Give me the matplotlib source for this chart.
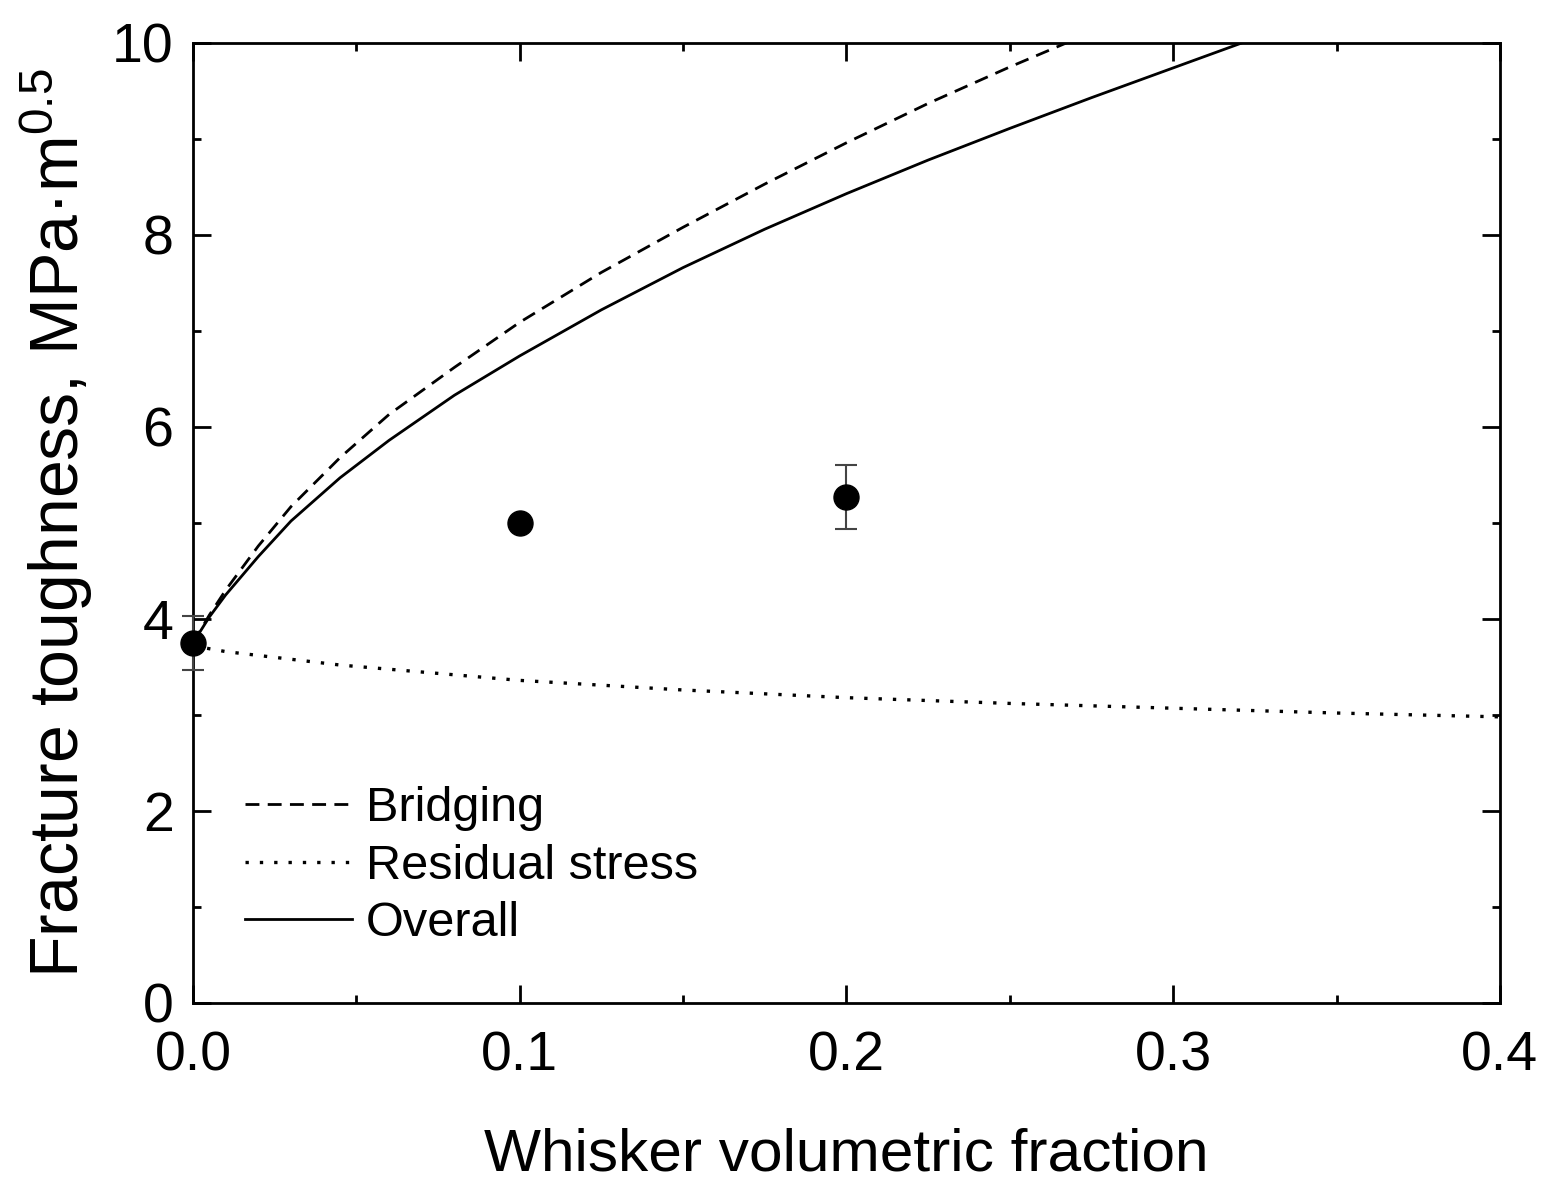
import numpy as np
import matplotlib.pyplot as plt
from matplotlib.ticker import MultipleLocator, FormatStrFormatter

plt.rcParams['font.family'] = ['Liberation Sans', 'DejaVu Sans']
plt.rcParams['mathtext.default'] = 'regular'

# Model curves (whisker fraction vs toughness)
frac_bridging = [0.0, 0.005, 0.01, 0.02, 0.03, 0.045, 0.06, 0.08, 0.1, 0.125, 0.15, 0.175, 0.2, 0.225, 0.25, 0.2673]
k_bridging = [3.75, 4.04, 4.30, 4.76, 5.17, 5.68, 6.13, 6.62, 7.09, 7.61, 8.08, 8.53, 8.96, 9.37, 9.75, 10.0]

frac_overall = [0.0, 0.005, 0.01, 0.02, 0.03, 0.045, 0.06, 0.08, 0.1, 0.125, 0.15, 0.175, 0.2, 0.225, 0.25, 0.275, 0.3, 0.321]
k_overall = [3.75, 4.02, 4.25, 4.65, 5.02, 5.47, 5.86, 6.33, 6.74, 7.22, 7.66, 8.06, 8.43, 8.78, 9.11, 9.43, 9.74, 10.0]

frac_residual = [0.0, 0.01, 0.045, 0.1, 0.15, 0.2, 0.25, 0.3, 0.35, 0.4]
k_residual = [3.72, 3.66, 3.52, 3.36, 3.26, 3.18, 3.12, 3.07, 3.02, 2.98]

# Experimental data
frac_exp = [0.0, 0.1, 0.2]
k_exp = [3.75, 5.0, 5.27]
k_err = [0.28, 0.0, 0.33]

fig = plt.figure(figsize=(15.5, 11.83), dpi=100)
ax = fig.add_axes([0.1245, 0.1522, 0.8432, 0.8115])

ax.plot(frac_bridging, k_bridging, color='black', lw=2, linestyle=(0, (5, 3)), label='Bridging')
ax.plot(frac_residual, k_residual, color='black', lw=2.4, linestyle=(0, (1, 3.3)), label='Residual stress')
ax.plot(frac_overall, k_overall, color='black', lw=2, linestyle='-', label='Overall')

ax.errorbar(frac_exp, k_exp, yerr=k_err, fmt='o', color='black', ms=18,
            ecolor='#444444', elinewidth=1.5, capsize=8, capthick=1.5, clip_on=False, zorder=5)

ax.set_xlim(0, 0.4)
ax.set_ylim(0, 10)
ax.xaxis.set_major_locator(MultipleLocator(0.1))
ax.xaxis.set_minor_locator(MultipleLocator(0.05))
ax.yaxis.set_major_locator(MultipleLocator(2))
ax.yaxis.set_minor_locator(MultipleLocator(1))
ax.xaxis.set_major_formatter(FormatStrFormatter('%.1f'))

ax.tick_params(which='both', direction='in', top=True, right=True, width=2)
ax.tick_params(which='major', length=13, labelsize=40)
ax.tick_params(which='minor', length=6)
ax.tick_params(axis='x', pad=20)
ax.tick_params(axis='y', pad=14)
for s in ax.spines.values():
    s.set_linewidth(2)

ax.set_xlabel('Whisker volumetric fraction', fontsize=43.5, labelpad=32)
ax.set_ylabel('Fracture toughness, MPa·m$^{0.5}$', fontsize=49, labelpad=12)

ax.legend(loc='lower left', bbox_to_anchor=(0.006, 0.014), frameon=False, fontsize=35,
          handlelength=2.2, handletextpad=0.3, labelspacing=0.25)

fig.savefig('out.png', dpi=100)
